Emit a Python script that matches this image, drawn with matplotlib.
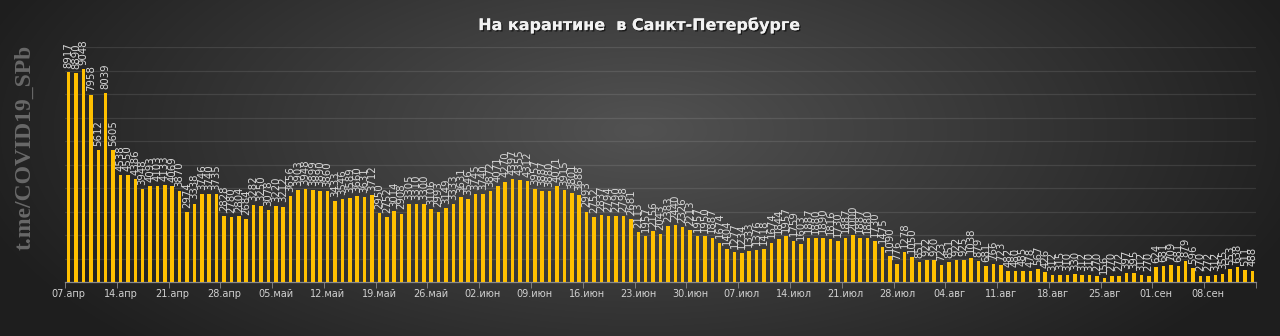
import numpy as np
import pandas as pd
import matplotlib
matplotlib.use('Agg')
import matplotlib.pyplot as plt
import matplotlib.patheffects as pe

# daily values, 07.04 - 14.09
apr = [8917, 8890, 9048, 7958, 5612, 8039, 5605, 4538, 4550, 4386, 3948, 4093,
       4103, 4133, 4069, 3870, 2974, 3338, 3746, 3740, 3735, 2828, 2780, 2804]
may = [2684, 3282, 3250, 3078, 3220, 3212, 3656, 3903, 3948, 3899, 3890, 3860,
       3433, 3546, 3589, 3660, 3631, 3712, 2950, 2752, 3014, 2908, 3305, 3310,
       3300, 3106, 2993, 3149, 3333, 3631, 3546]
jun = [3745, 3740, 3872, 4071, 4270, 4397, 4355, 4312, 3957, 3887, 3880, 4071,
       3915, 3801, 3688, 2993, 2752, 2837, 2794, 2790, 2798, 2681, 2113, 1957,
       2156, 2043, 2383, 2440, 2326, 2213]
jul = [1957, 1950, 1887, 1674, 1404, 1277, 1234, 1333, 1376, 1418, 1674, 1844,
       1957, 1759, 1603, 1887, 1880, 1890, 1816, 1730, 1887, 2000, 1887, 1880,
       1730, 1475, 1090, 776, 1278, 1050, 851]
aug = [922, 920, 723, 851, 922, 925, 1038, 879, 681, 766, 723, 482, 480, 485,
       478, 567, 426, 312, 315, 310, 330, 312, 310, 270, 156, 270, 272, 397,
       395, 312, 270]
sep = [624, 681, 709, 681, 879, 596, 270, 272, 312, 355, 553, 638, 511, 488]

values = apr + may + jun + jul + aug + sep
dates = pd.date_range('2020-04-07', periods=len(values), freq='D')
months_ru = {4: 'апр', 5: 'май', 6: 'июн', 7: 'июл', 8: 'авг', 9: 'сен'}
title = 'На карантине  в Санкт-Петербурге'
watermark = 't.me/COVID19_SPb'

fig = plt.figure(figsize=(12.8, 3.36), dpi=100)

# dark radial background
bg = fig.add_axes([0, 0, 1, 1], zorder=-2)
yy, xx = np.mgrid[0:336, 0:1280]
r = np.sqrt(((xx - 640) / 720.0) ** 2 + ((yy - 130) / 330.0) ** 2)
c = np.clip(82 - 54 * r, 30, 90) / 255.0
bg.imshow(np.dstack([c, c, c]), aspect='auto', extent=[0, 1, 0, 1])
bg.axis('off')

ax = fig.add_axes([65 / 1280, 54 / 336, 1191 / 1280, 235 / 336])
ax.set_facecolor('none')
x = np.arange(len(values))
ax.bar(x, values, width=0.48, color='#FFC000', zorder=3)
for i, v in enumerate(values):
    ax.annotate(str(v), (i, v), xytext=(0, 3), textcoords='offset points',
                rotation=90, ha='center', va='bottom', fontsize=7.3,
                color='#d8d8d8', zorder=4)

ax.set_xlim(-0.5, len(values) - 0.5)
ax.set_ylim(0, 10000)
ax.set_yticks(np.arange(1000, 10001, 1000))
ax.yaxis.grid(True, color='white', alpha=0.1, linewidth=0.9)
ax.tick_params(axis='y', left=False, labelleft=False)
for s in ['top', 'right', 'left']:
    ax.spines[s].set_visible(False)
ax.spines['bottom'].set_color('#8a8a8a')
ax.spines['bottom'].set_linewidth(0.9)

lab_pos = np.arange(0, len(values), 7)
ax.set_xticks(lab_pos)
ax.set_xticklabels(['%02d.%s' % (dates[i].day, months_ru[dates[i].month]) for i in lab_pos])
ax.set_xticks(np.append(lab_pos - 0.5, len(values) - 0.5), minor=True)
ax.tick_params(axis='x', which='major', length=0, pad=5, labelsize=7, labelcolor='#d0d0d0')
ax.tick_params(axis='x', which='minor', length=4, color='#8a8a8a')

fig.text(0.5, 0.925, title, ha='center', va='center', fontsize=11.5,
         fontweight='bold', color='#f2f2f2',
         path_effects=[pe.withSimplePatchShadow(offset=(1, -1), shadow_rgbFace='black', alpha=0.6), pe.Normal()])
fig.text(25 / 1280, 1 - 147 / 336, watermark, rotation=90, ha='center', va='center',
         fontsize=17, family='Liberation Serif', fontweight='bold', color='#686868')

fig.savefig('out.png', dpi=100)
